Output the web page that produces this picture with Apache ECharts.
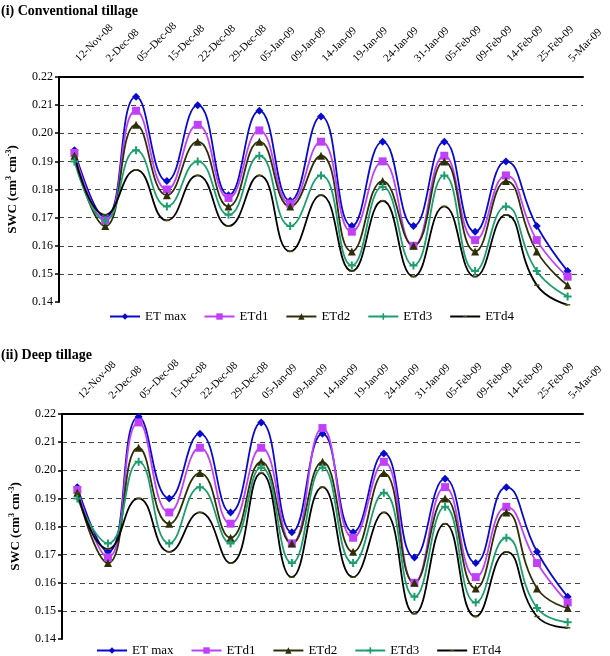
<!DOCTYPE html>
<html>
<head>
<meta charset="utf-8">
<script src="https://cdn.jsdelivr.net/npm/echarts@6/dist/echarts.min.js"></script>
<style>
  html, body { margin: 0; padding: 0; background: #fff; }
  #chart { width: 610px; height: 656px; }
</style>
</head>
<body>
<div id="chart"></div>
<script>
// sampling dates
const dates = ['12-Nov-08', '2-Dec-08', '05--Dec-08', '15-Dec-08', '22-Dec-08', '29-Dec-08',
  '05-Jan-09', '09-Jan-09', '14-Jan-09', '19-Jan-09', '24-Jan-09', '31-Jan-09',
  '05-Feb-09', '09-Feb-09', '14-Feb-09', '25-Feb-09', '5-Mar-09'];
const names = ['ET max', 'ETd1', 'ETd2', 'ETd3', 'ETd4'];

// (i) conventional tillage
const ctEtMax = [0.194, 0.170, 0.213, 0.183, 0.210, 0.178, 0.208, 0.176, 0.206, 0.167, 0.197, 0.167, 0.197, 0.165, 0.190, 0.167, 0.151];
const ctEtd1  = [0.193, 0.169, 0.208, 0.180, 0.203, 0.177, 0.201, 0.175, 0.197, 0.165, 0.190, 0.160, 0.192, 0.162, 0.185, 0.162, 0.149];
const ctEtd2  = [0.192, 0.167, 0.203, 0.178, 0.197, 0.174, 0.197, 0.174, 0.192, 0.158, 0.183, 0.160, 0.190, 0.158, 0.183, 0.158, 0.146];
const ctEtd3  = [0.190, 0.169, 0.194, 0.174, 0.190, 0.171, 0.192, 0.167, 0.185, 0.153, 0.181, 0.153, 0.185, 0.151, 0.174, 0.151, 0.142];
const ctEtd4  = [0.192, 0.171, 0.187, 0.169, 0.185, 0.167, 0.185, 0.158, 0.178, 0.151, 0.176, 0.149, 0.174, 0.149, 0.171, 0.146, 0.139];

// (ii) deep tillage
const dtEtMax = [0.194, 0.171, 0.219, 0.190, 0.213, 0.185, 0.217, 0.178, 0.213, 0.178, 0.206, 0.169, 0.197, 0.167, 0.194, 0.171, 0.155];
const dtEtd1  = [0.193, 0.169, 0.217, 0.185, 0.208, 0.181, 0.208, 0.174, 0.215, 0.176, 0.203, 0.160, 0.194, 0.162, 0.187, 0.167, 0.153];
const dtEtd2  = [0.192, 0.167, 0.208, 0.181, 0.199, 0.176, 0.203, 0.174, 0.203, 0.171, 0.199, 0.160, 0.190, 0.158, 0.185, 0.158, 0.151];
const dtEtd3  = [0.190, 0.174, 0.203, 0.174, 0.194, 0.174, 0.201, 0.167, 0.201, 0.167, 0.192, 0.155, 0.187, 0.153, 0.176, 0.151, 0.146];
const dtEtd4  = [0.192, 0.172, 0.190, 0.171, 0.185, 0.167, 0.199, 0.162, 0.194, 0.162, 0.185, 0.149, 0.181, 0.148, 0.171, 0.148, 0.144];

const font = 'Liberation Serif';
const plus = 'path://M3,0H5V3H8V5H5V8H3V5H0V3H3Z';
// thin dash, padded with moveTo points so it stays small inside its box
const dash = 'path://M0,0M10,10M2,4.2H8V5.8H2Z';
// style per series: line colour, marker, marker size, marker colour
const styles = [
  { color: '#0A0ACC', symbol: 'diamond', size: 8, mark: '#0A0ACC' },
  { color: '#C040F8', symbol: 'rect', size: 8, mark: '#C040F8' },
  { color: '#2E2E08', symbol: 'triangle', size: 8, mark: '#2E2E08' },
  { color: '#1E9E6E', symbol: plus, size: 8, mark: '#1E9E6E' },
  { color: '#000000', symbol: dash, size: 9, mark: '#4A4A10' }
];

function makeSeries(data, idx) {
  return data.map((d, i) => ({
    name: names[i],
    type: 'line',
    xAxisIndex: idx,
    yAxisIndex: idx,
    data: d,
    smooth: 0.5,
    clip: false,
    symbol: styles[i].symbol,
    symbolSize: styles[i].size,
    showAllSymbol: true,
    lineStyle: { color: styles[i].color, width: 1.8 },
    itemStyle: { color: styles[i].mark, borderWidth: 0 }
  }));
}

function xAx(idx) {
  return {
    type: 'category',
    gridIndex: idx,
    position: 'top',
    data: dates,
    boundaryGap: true,
    axisLine: { lineStyle: { color: '#000', width: 2 } },
    axisTick: { inside: true, length: 5, lineStyle: { color: '#000', width: 1.5 } },
    axisLabel: { rotate: -45, margin: 14, interval: 0, fontSize: 11, color: '#000', fontFamily: font, padding: [0, 0, 0, 4] }
  };
}

function yAx(idx) {
  return {
    type: 'value',
    gridIndex: idx,
    min: 0.14,
    max: 0.22,
    interval: 0.01,
    name: '{b|SWC (cm}{s|3}{b| cm}{s|-3}{b|)}',
    nameLocation: 'middle',
    nameGap: 38,
    nameTextStyle: {
      rich: {
        b: { fontSize: 13, fontWeight: 'bold', fontFamily: font, color: '#000', lineHeight: 16 },
        s: { fontSize: 8, fontWeight: 'bold', fontFamily: font, color: '#000', verticalAlign: 'top', lineHeight: 16 }
      }
    },
    axisLine: { show: true, lineStyle: { color: '#000', width: 2 } },
    axisTick: { show: true, length: 4, lineStyle: { color: '#000', width: 1.5 } },
    axisLabel: { fontSize: 12, color: '#000', fontFamily: font, margin: 6, formatter: v => v.toFixed(2) },
    splitLine: {
      show: true, showMinLine: false, showMaxLine: false,
      lineStyle: { type: [5, 4], color: '#444', width: 1 }
    }
  };
}

function legend(top, left) {
  return {
    top: top, left: left,
    itemWidth: 30, itemHeight: 8, itemGap: 17,
    textStyle: { fontSize: 13, color: '#000', fontFamily: font },
    data: names
  };
}

const chart = echarts.init(document.getElementById('chart'));
chart.setOption({
  animation: false,
  textStyle: { fontFamily: font },
  title: [
    { text: '(i) Conventional tillage', left: -4, top: -1, textStyle: { fontSize: 14, fontWeight: 'bold', color: '#000', fontFamily: font } },
    { text: '(ii) Deep tillage', left: -4, top: 343, textStyle: { fontSize: 14, fontWeight: 'bold', color: '#000', fontFamily: font } }
  ],
  legend: [legend(305, 104), legend(639, 91)],
  grid: [
    { left: 59, right: 27, top: 77, height: 225, outerBoundsMode: 'none' },
    { left: 62, right: 27, top: 414, height: 225, outerBoundsMode: 'none' }
  ],
  xAxis: [xAx(0), xAx(1)],
  yAxis: [yAx(0), yAx(1)],
  series: makeSeries([ctEtMax, ctEtd1, ctEtd2, ctEtd3, ctEtd4], 0)
    .concat(makeSeries([dtEtMax, dtEtd1, dtEtd2, dtEtd3, dtEtd4], 1))
});
</script>
</body>
</html>
